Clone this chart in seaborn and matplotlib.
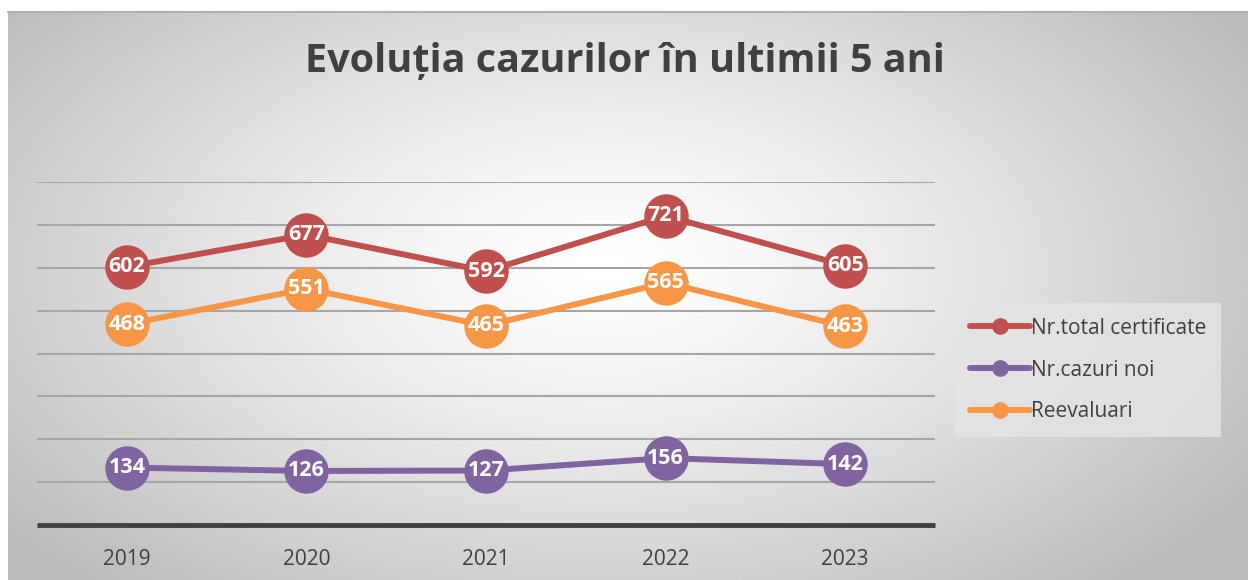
import numpy as np
import pandas as pd
import seaborn as sns
import matplotlib.pyplot as plt
from matplotlib.lines import Line2D

# data
years = ["2019", "2020", "2021", "2022", "2023"]
total_cert = [602, 677, 592, 721, 605]
cazuri_noi = [134, 126, 127, 156, 142]
reevaluari = [468, 551, 465, 565, 463]
series_names = ["Nr.total certificate", "Nr.cazuri noi", "Reevaluari"]
colors = ["#C0504D", "#8064A2", "#F79646"]

df = pd.DataFrame({
    "an": years * 3,
    "valoare": total_cert + cazuri_noi + reevaluari,
    "serie": [series_names[0]] * 5 + [series_names[1]] * 5 + [series_names[2]] * 5,
})

sns.set_theme(style="white")
plt.rcParams["font.family"] = ["Open Sans", "DejaVu Sans"]

W, H = 1248, 580
fig = plt.figure(figsize=(W / 100, H / 100), dpi=100)
fig.patch.set_facecolor("white")

# radial gray background
bg = fig.add_axes([8 / W, 0, (W - 8) / W, (H - 12) / H], zorder=-5)
gx, gy = np.meshgrid(np.linspace(0, 1, 600), np.linspace(0, 1, 300))
d = np.sqrt(((gx - 0.48) / 0.62) ** 2 + ((gy - 0.45) / 0.75) ** 2)
shade = 1.0 - 0.27 * np.clip(d, 0, 1) ** 1.3
bg.imshow(shade, cmap="gray", vmin=0, vmax=1, aspect="auto", extent=[0, 1, 0, 1])
bg.set_axis_off()
fig.add_artist(Line2D([8 / W, 1], [(H - 12) / H] * 2, color="#b0b0b0", lw=1.5))

ax = fig.add_axes([37 / W, (H - 525) / H, 898 / W, (525 - 182) / H])
ax.set_facecolor("none")
ax.set_ylim(0, 800)
ax.set_xlim(-0.5, 4.5)
for v in range(100, 801, 100):
    ax.axhline(v, color="#a6a6a6", lw=1.5, zorder=0)
ax.axhline(0, color="#404040", lw=3.5, zorder=1, clip_on=False, solid_capstyle="butt")

sns.lineplot(
    data=df, x="an", y="valoare", hue="serie", hue_order=series_names,
    palette=colors, marker="o", markersize=32, markeredgewidth=0,
    linewidth=4.3, legend=False, ax=ax, zorder=3,
)

for name, vals in zip(series_names, [total_cert, cazuri_noi, reevaluari]):
    for i, v in enumerate(vals):
        ax.text(i, v, str(v), ha="center", va="center", color="white",
                fontsize=15.5, fontweight="bold", zorder=5)

for s in ax.spines.values():
    s.set_visible(False)
ax.set_yticks([])
ax.set_xlabel("")
ax.set_ylabel("")
ax.tick_params(axis="x", length=0, pad=17, labelsize=15, labelcolor="#404040")

fig.text(625 / W, 1 - 62 / H, "Evoluția cazurilor în ultimii 5 ani",
         ha="center", va="center", fontsize=28.5, fontweight="bold", color="#404040")

handles = [Line2D([], [], color=c, lw=4.3, marker="o", markersize=11) for c in colors]
leg = fig.legend(handles, series_names, loc="center left",
                 bbox_to_anchor=(945 / W, 1 - 370 / H), frameon=True,
                 fontsize=15, handlelength=2.9, labelspacing=1.0,
                 handletextpad=0.05, borderpad=0.7)
leg.get_frame().set_facecolor("#e4e4e4")
leg.get_frame().set_edgecolor("none")
leg.get_frame().set_alpha(0.85)
leg.get_frame().set_boxstyle("square", pad=0)
for t in leg.get_texts():
    t.set_color("#404040")

fig.savefig("out.png", dpi=100)
